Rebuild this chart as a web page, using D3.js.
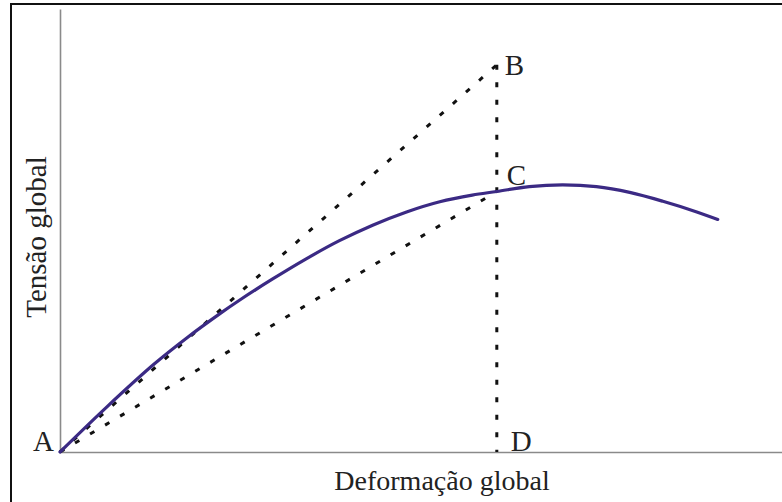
<!DOCTYPE html>
<html>
<head>
<meta charset="utf-8">
<script src="https://cdn.jsdelivr.net/npm/d3@7"></script>
<style>
	html, body { margin: 0; padding: 0; background: #fff; }
	svg { display: block; }
</style>
</head>
<body>
<svg id="chart"></svg>
<script>
// global strain / stress (arbitrary units, 0-100)
const strain = [0, 6.5, 13, 17.6, 22.3, 24.8, 29.4, 34.1, 38.7, 43.3, 48, 52.6, 57.1, 60.5, 65, 69.6, 74.3, 78.9, 83.5, 88.2, 91.1];
const stress = [0, 10.2, 19.8, 25.8, 31.4, 34.2, 39.0, 43.6, 47.7, 51.2, 54.2, 56.5, 58.0, 58.8, 59.9, 60.3, 59.9, 58.6, 56.6, 54.2, 52.5];

// reference points
const pointNames = ['A', 'B', 'C', 'D'];
const pointX = [0, 60.5, 60.5, 60.5];
const pointY = [0, 87.4, 58.8, 0];

const xTitle = 'Deformação global';
const yTitle = 'Tensão global';

const width = 782, height = 502;
const serif = "'Liberation Serif', 'Times New Roman', Times, 'DejaVu Serif', serif";

const svg = d3.select('#chart')
	.attr('width', width)
	.attr('height', height);

svg.append('rect')
	.attr('width', width)
	.attr('height', height)
	.attr('fill', '#fff');

// frame (only top and left edges are visible in the crop)
svg.append('rect')
	.attr('x', 11)
	.attr('y', 4)
	.attr('width', width + 20)
	.attr('height', height + 20)
	.attr('fill', 'none')
	.attr('stroke', '#111')
	.attr('stroke-width', 2);

const xScale = d3.scaleLinear().domain([0, 100]).range([60, 782]);
const yScale = d3.scaleLinear().domain([0, 100]).range([452, 9]);

// axes without ticks
const xAxis = d3.axisBottom(xScale).tickValues([]).tickSizeOuter(0);
const yAxis = d3.axisLeft(yScale).tickValues([]).tickSizeOuter(0);

svg.append('g')
	.attr('transform', `translate(0,${yScale(0)})`)
	.call(xAxis)
	.select('.domain')
	.attr('stroke', '#8a8a8a')
	.attr('stroke-width', 1.6);

svg.append('g')
	.attr('transform', `translate(${xScale(0)},0)`)
	.call(yAxis)
	.select('.domain')
	.attr('stroke', '#8a8a8a')
	.attr('stroke-width', 1.6);

const pts = pointNames.map((n, i) => ({ name: n, x: pointX[i], y: pointY[i] }));
const P = {};
pts.forEach(p => P[p.name] = p);

// dotted construction lines: A-B, A-C, B-D
const segs = [[P.A, P.B], [P.A, P.C], [P.B, P.D]];
svg.append('g')
	.selectAll('line')
	.data(segs)
	.join('line')
	.attr('x1', d => xScale(d[0].x))
	.attr('y1', d => yScale(d[0].y))
	.attr('x2', d => xScale(d[1].x))
	.attr('y2', d => yScale(d[1].y))
	.attr('stroke', '#111')
	.attr('stroke-width', 3)
	.attr('stroke-dasharray', '5,12.5');

// stress-strain curve
const data = strain.map((s, i) => ({ x: s, y: stress[i] }));
const line = d3.line()
	.x(d => xScale(d.x))
	.y(d => yScale(d.y))
	.curve(d3.curveCatmullRom);

svg.append('path')
	.datum(data)
	.attr('d', line)
	.attr('fill', 'none')
	.attr('stroke', '#3b2a84')
	.attr('stroke-width', 3.2)
	.attr('stroke-linecap', 'round');

// point labels
const offsets = { A: [-6, -1, 'end'], B: [8, 10, 'start'], C: [10, -7, 'start'], D: [14, -1, 'start'] };
svg.append('g')
	.selectAll('text')
	.data(pts)
	.join('text')
	.attr('font-family', serif)
	.attr('fill', '#222')
	.attr('x', d => xScale(d.x) + offsets[d.name][0])
	.attr('y', d => yScale(d.y) + offsets[d.name][1])
	.attr('text-anchor', d => offsets[d.name][2])
	.attr('font-size', 29)
	.text(d => d.name);

// axis titles
svg.append('text')
	.attr('font-family', serif)
	.attr('fill', '#222')
	.attr('x', 442)
	.attr('y', 490)
	.attr('text-anchor', 'middle')
	.attr('font-size', 28)
	.text(xTitle);

svg.append('text')
	.attr('font-family', serif)
	.attr('fill', '#222')
	.attr('transform', 'translate(46,237) rotate(-90)')
	.attr('text-anchor', 'middle')
	.attr('font-size', 29)
	.text(yTitle);
</script>
</body>
</html>
